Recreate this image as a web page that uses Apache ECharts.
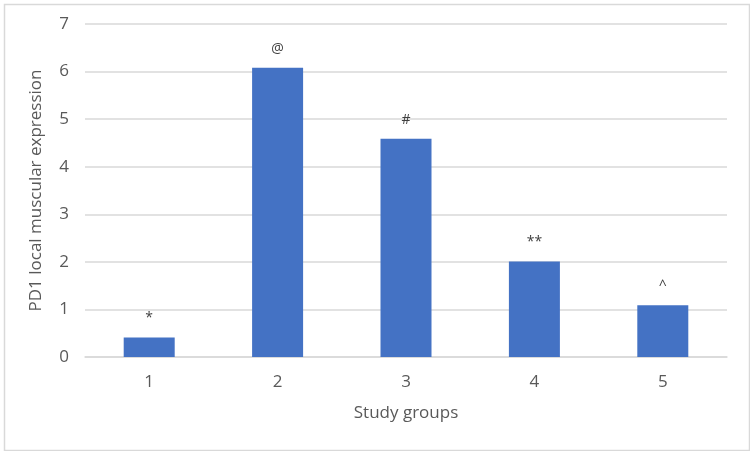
<!DOCTYPE html>
<html>
<head>
<meta charset="utf-8">
<script src="https://cdn.jsdelivr.net/npm/echarts@6/dist/echarts.min.js"></script>
<style>
  html, body { margin: 0; padding: 0; background: #fff; }
  #chart_con { width: 750px; height: 451px; box-sizing: border-box; }
</style>
</head>
<body>
<div id="chart_con"></div>
<script>
// data
const groups = ["1", "2", "3", "4", "5"];
const expression = [0.41, 6.08, 4.59, 2.01, 1.09];
const marks = ["*", "@", "#", "**", "^"];

const textColor = "#595959";
const fontFamily = "'Open Sans', sans-serif";

const option = {
  animation: false,
  textStyle: { fontFamily: fontFamily },
  graphic: [
    {
      type: "rect",
      left: 2,
      top: 2,
      shape: { width: 745, height: 446 },
      style: { fill: "none", stroke: "#d9d9d9", lineWidth: 1.5 },
      silent: true
    }
  ],
  grid: {
    left: 85,
    right: 23,
    top: 24,
    bottom: 94
  },
  xAxis: {
    type: "category",
    data: groups,
    name: "Study groups",
    nameLocation: "middle",
    nameGap: 48,
    nameTextStyle: { color: textColor, fontSize: 17, fontFamily: fontFamily },
    axisLine: { lineStyle: { color: "#d9d9d9", width: 1.5 } },
    axisTick: { show: false },
    axisLabel: { color: textColor, fontSize: 17, margin: 17, fontFamily: fontFamily }
  },
  yAxis: {
    type: "value",
    min: 0,
    max: 7,
    interval: 1,
    name: "PD1 local muscular expression",
    nameLocation: "middle",
    nameGap: 40,
    nameTextStyle: { color: textColor, fontSize: 17, fontFamily: fontFamily },
    axisLine: { show: false },
    axisTick: { show: false },
    axisLabel: { color: textColor, fontSize: 17, margin: 16, fontFamily: fontFamily },
    splitLine: { lineStyle: { color: "#d9d9d9", width: 1.5 } }
  },
  series: [
    {
      type: "bar",
      data: expression,
      barWidth: 51,
      itemStyle: { color: "#4472c4" },
      label: {
        show: true,
        position: "top",
        distance: 12,
        color: "#404040",
        fontSize: 14,
        fontFamily: fontFamily,
        formatter: function (p) {
          return marks[p.dataIndex];
        }
      }
    }
  ]
};

const chart = echarts.init(document.getElementById("chart_con"));
chart.setOption(option);
window.addEventListener("resize", function () {
  chart.resize();
});
</script>
</body>
</html>
